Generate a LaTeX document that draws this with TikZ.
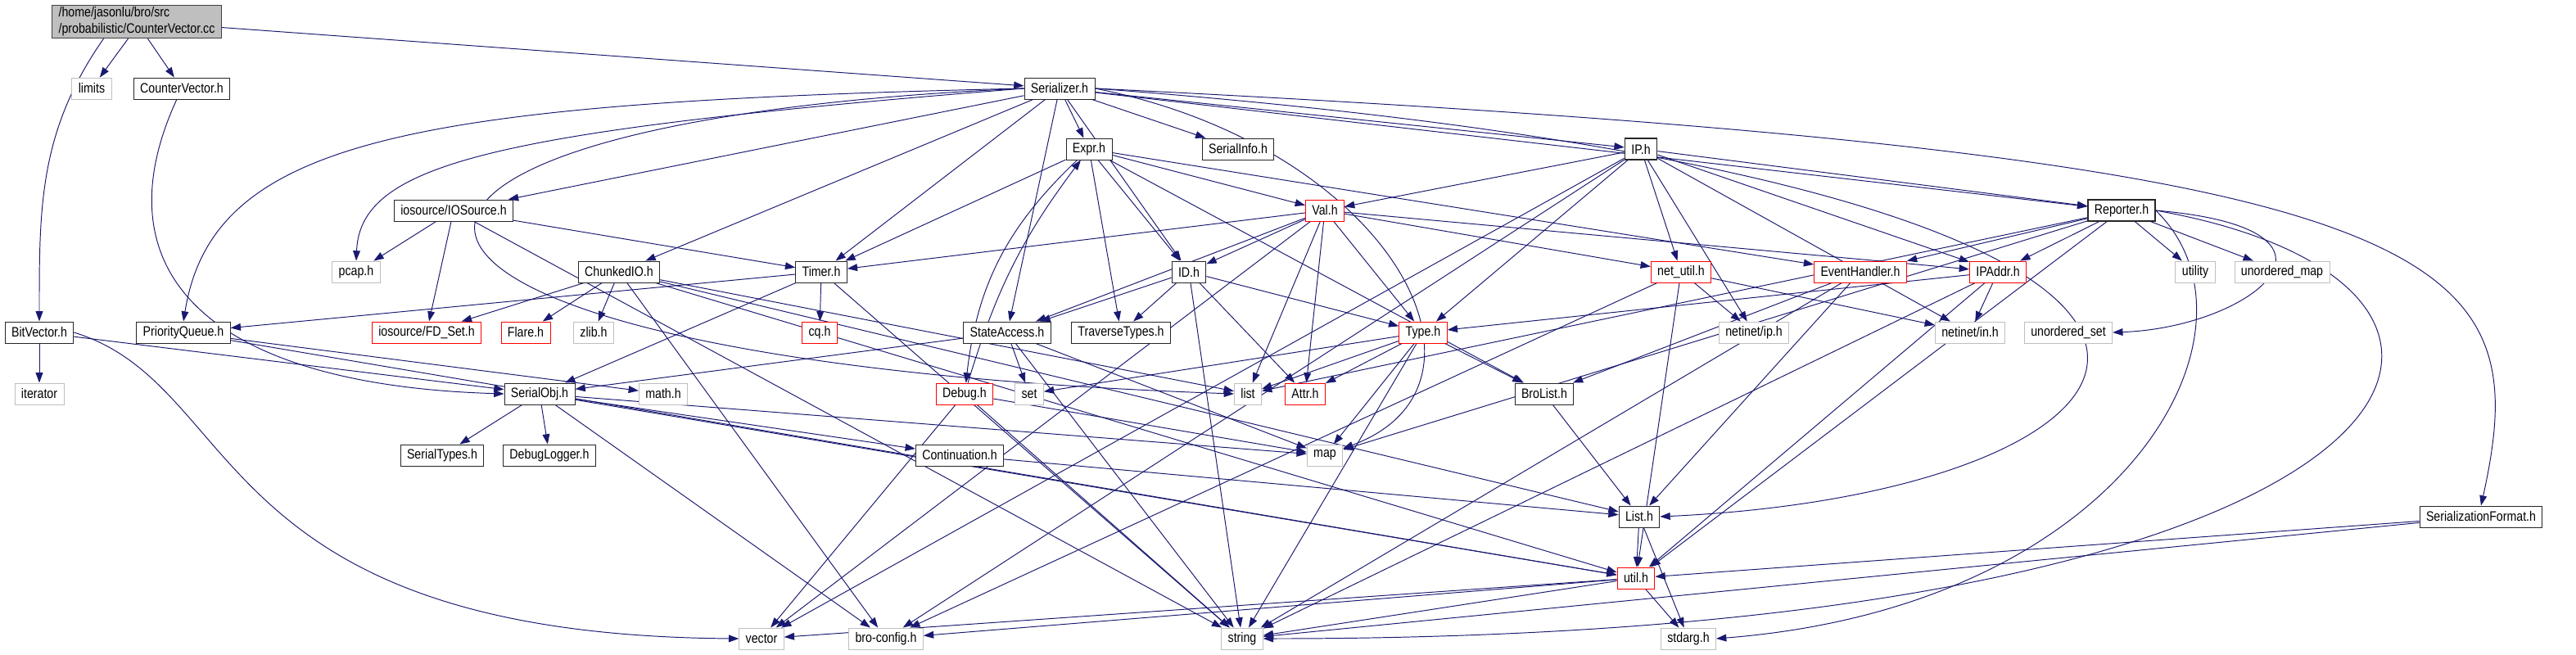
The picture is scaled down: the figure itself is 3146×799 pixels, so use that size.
\documentclass[tikz,border=0pt]{standalone}
\usepackage{fontspec}
\setmainfont{Liberation Sans}[FakeStretch=0.85]
\usetikzlibrary{arrows.meta}
\definecolor{edgeblue}{RGB}{25,25,112}
\definecolor{boxgray}{RGB}{191,191,191}
\pgfdeclarelayer{edges}
\pgfsetlayers{edges,main}
\begin{document}
\begin{tikzpicture}[x=0.02cm, y=-0.02cm, font=\fontsize{9.5}{11.5}\selectfont,
  box/.style={draw, line width=0.55pt, minimum height=0.52cm, inner xsep=4.5pt, inner ysep=0pt, fill=white},
  hdr/.style={box, draw=black!85},
  ext/.style={box, draw=boxgray},
  trunc/.style={box, draw=red},
  dep/.style={draw=edgeblue, line width=0.55pt, -{Triangle[length=7pt,width=5pt]}}]
  \useasboundingbox (0,0) rectangle (3146,799);
  % root file
  \node[box, fill=boxgray, draw=black!75, align=left, minimum height=0.8cm] (cc) at (167,26) {/home/jasonlu/bro/src\\/probabilistic/CounterVector.cc};
  % headers of the project
  \node[ext] (limits) at (112,108) {limits};
  \node[hdr] (cvh) at (222,108) {CounterVector.h};
  \node[hdr] (serializer) at (1294,108) {Serializer.h};
  \node[hdr] (expr) at (1330,182) {Expr.h};
  \node[hdr] (serinfo) at (1512,182) {SerialInfo.h};
  \node[hdr, line width=0.8pt] (iph) at (2004,182) {IP.h};
  \node[hdr] (iosrc) at (554,257) {iosource/IOSource.h};
  \node[trunc] (valh) at (1618,257) {Val.h};
  \node[hdr, line width=0.8pt] (reporter) at (2591,257) {Reporter.h};
  \node[ext] (pcap) at (435,332) {pcap.h};
  \node[hdr] (chunked) at (756,332) {ChunkedIO.h};
  \node[hdr] (timer) at (1003,332) {Timer.h};
  \node[hdr] (idh) at (1452,332) {ID.h};
  \node[trunc] (netutil) at (2053,332) {net\_util.h};
  \node[trunc] (evh) at (2272,332) {EventHandler.h};
  \node[trunc] (ipaddr) at (2440,332) {IPAddr.h};
  \node[ext] (utility) at (2681,332) {utility};
  \node[ext] (umap) at (2787,332) {unordered\_map};
  \node[hdr] (bitvec) at (48,406) {BitVector.h};
  \node[hdr] (prioq) at (224,406) {PriorityQueue.h};
  \node[trunc] (fdset) at (521,406) {iosource/FD\_Set.h};
  \node[trunc] (flare) at (642,406) {Flare.h};
  \node[ext] (zlib) at (725,406) {zlib.h};
  \node[trunc] (cq) at (1001,406) {cq.h};
  \node[hdr] (stacc) at (1230,406) {StateAccess.h};
  \node[hdr] (travtypes) at (1369,406) {TraverseTypes.h};
  \node[trunc] (typeh) at (1738,406) {Type.h};
  \node[ext] (netip) at (2142,406) {netinet/ip.h};
  \node[ext] (netin) at (2406,406) {netinet/in.h};
  \node[ext] (uset) at (2526,406) {unordered\_set};
  \node[ext] (iterator) at (48,481) {iterator};
  \node[hdr] (serobj) at (659,481) {SerialObj.h};
  \node[ext] (math) at (810,481) {math.h};
  \node[trunc] (debugh) at (1178,481) {Debug.h};
  \node[ext] (seth) at (1257,481) {set};
  \node[ext] (lst) at (1524,481) {list};
  \node[trunc] (attr) at (1594,481) {Attr.h};
  \node[hdr] (brolist) at (1886,481) {BroList.h};
  \node[hdr] (sertypes) at (540,556) {SerialTypes.h};
  \node[hdr] (dbglog) at (671,556) {DebugLogger.h};
  \node[hdr] (contin) at (1172,556) {Continuation.h};
  \node[ext] (maph) at (1618,556) {map};
  \node[hdr] (Listh) at (2002,631) {List.h};
  \node[hdr] (serfmt) at (3030,631) {SerializationFormat.h};
  \node[trunc] (utilh) at (1998,706) {util.h};
  \node[ext] (vector) at (930,780) {vector};
  \node[ext] (broconf) at (1082,780) {bro-config.h};
  \node[ext] (strh) at (1517,780) {string};
  \node[ext] (stdarg) at (2062,780) {stdarg.h};
  % include edges, kept under the boxes
  \begin{pgfonlayer}{edges}
  \foreach \src/\dst in {cc/serializer, bitvec/iterator, bitvec/serobj,
      serializer/iosrc, serializer/chunked, serializer/timer, serializer/stacc, serializer/expr,
      serializer/idh, serializer/serinfo, serializer/iph, serializer/reporter,
      iosrc/pcap, iosrc/fdset, iosrc/timer, iosrc/strh,
      chunked/fdset, chunked/flare, chunked/zlib, chunked/broconf, chunked/Listh, chunked/utilh, chunked/lst,
      timer/prioq, timer/serobj, timer/cq, timer/strh, prioq/math, prioq/utilh,
      expr/timer, expr/idh, expr/valh, expr/travtypes, expr/brolist, expr/evh,
      debugh/vector, debugh/strh, debugh/maph,
      idh/stacc, idh/travtypes, idh/strh, idh/attr, idh/typeh,
      valh/timer, valh/idh, valh/stacc, valh/vector, valh/lst, valh/attr, valh/typeh, valh/netutil, valh/ipaddr,
      iph/valh, iph/typeh, iph/vector, iph/broconf, iph/netutil, iph/netip, iph/netin, iph/ipaddr, iph/reporter,
      netutil/netip, netutil/netin, netutil/utilh, netutil/broconf,
      evh/brolist, evh/Listh, evh/strh, ipaddr/typeh, ipaddr/netin, ipaddr/utilh, ipaddr/strh,
      reporter/evh, reporter/ipaddr, reporter/utility, reporter/umap, reporter/lst, reporter/maph, reporter/utilh,
      stacc/serobj, stacc/seth, stacc/strh, stacc/maph,
      typeh/seth, typeh/lst, typeh/attr, typeh/brolist, typeh/maph, typeh/strh,
      serobj/sertypes, serobj/dbglog, serobj/contin, serobj/broconf, serobj/maph, serobj/utilh,
      contin/Listh, brolist/Listh, Listh/utilh, Listh/stdarg,
      utilh/vector, utilh/broconf, utilh/strh, utilh/stdarg, serfmt/utilh, serfmt/strh}
    \draw[dep] (\src) -- (\dst);
  % edges leaving the root box
  \draw[dep] ([xshift=-0.2cm]cc.south) -- (limits);
  \draw[dep] ([xshift=0.26cm]cc.south) -- (cvh);
  \draw[dep] ([xshift=-0.8cm]cc.south) to[out=235,in=90] (bitvec);
  % curved edges
  \draw[dep] (cvh) .. controls (120,330) and (250,470) .. (serobj.west);
  \draw[dep] (bitvec.east) .. controls (300,470) and (250,775) .. (vector.west);
  \draw[dep] (serializer.west) .. controls (500,125) and (260,170) .. (prioq.north);
  \draw[dep] (serializer.west) .. controls (600,160) and (440,200) .. (pcap.north);
  \draw[dep] (serializer.west) .. controls (300,150) and (340,440) .. (lst.west);
  \draw[dep] (serializer.east) .. controls (3000,190) and (3100,300) .. (serfmt.north);
  \draw[dep] (serializer.east) .. controls (2950,230) and (2700,600) .. (Listh.east);
  \draw[dep] (serializer.east) .. controls (1700,180) and (1850,470) .. (maph);
  \draw[dep] (expr) to[bend right=20] (debugh);
  \draw[dep] (debugh) to[bend left=10] (expr);
  \draw[dep] (reporter.east) .. controls (2900,280) and (2750,400) .. (uset.east);
  \draw[dep] (reporter.east) .. controls (3160,350) and (3000,780) .. (strh.east);
  \draw[dep] (reporter.east) .. controls (2780,400) and (2600,740) .. (stdarg.east);
  \end{pgfonlayer}
\end{tikzpicture}
\end{document}
